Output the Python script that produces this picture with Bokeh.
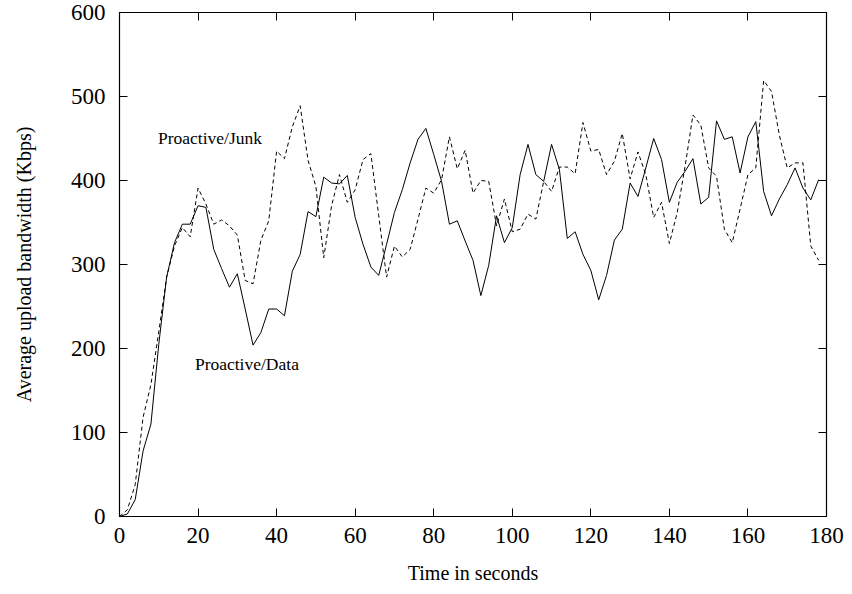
from bokeh.plotting import figure
from bokeh.models import LinearAxis, Label, Range1d, FixedTicker
from bokeh.embed import file_html
from bokeh.resources import INLINE

# ---- data ----
time_s = list(range(0, 180, 2))

proactive_data = [
    0, 3, 20, 78, 110, 205, 285, 326, 348, 348,
    370, 368, 318, 295, 273, 289, 247, 204, 219, 247,
    247, 239, 292, 312, 363, 357, 404, 397, 396, 406,
    356, 324, 297, 287, 324, 362, 389, 421, 449, 462,
    431, 399, 348, 352, 328, 305, 263, 299, 358, 326,
    344, 407, 443, 407, 399, 443, 413, 331, 339, 312,
    293, 258, 287, 329, 342, 397, 381, 415, 450, 425,
    374, 398, 411, 426, 372, 380, 471, 449, 452, 409,
    452, 470, 387, 358, 378, 395, 415, 391, 377, 401,
]

proactive_junk = [
    0, 8, 38, 118, 157, 220, 285, 322, 344, 333,
    391, 372, 348, 353, 346, 335, 281, 277, 329, 352,
    435, 426, 464, 489, 424, 393, 308, 370, 407, 374,
    389, 425, 432, 358, 285, 322, 309, 318, 354, 391,
    385, 401, 452, 414, 436, 385, 400, 399, 346, 378,
    339, 342, 360, 354, 399, 387, 416, 416, 408, 469,
    435, 437, 407, 423, 456, 402, 434, 407, 356, 374,
    325, 362, 417, 478, 466, 415, 405, 342, 326, 366,
    407, 415, 519, 506, 454, 415, 421, 421, 322, 305,
]

x_ticks = [0, 20, 40, 60, 80, 100, 120, 140, 160, 180]
y_ticks = [0, 100, 200, 300, 400, 500, 600]

series_labels = ["Proactive/Junk", "Proactive/Data"]

FONT = "Liberation Serif"

p = figure(width=844, height=586, output_backend="svg", toolbar_location=None,
           x_range=Range1d(0, 180), y_range=Range1d(0, 600),
           min_border_left=119, min_border_right=18, min_border_top=12,
           min_border_bottom=67)

p.line(time_s, proactive_junk, line_color="black", line_width=1, line_dash="4 3")
p.line(time_s, proactive_data, line_color="black", line_width=1)

p.grid.visible = False
p.outline_line_color = "black"
p.outline_line_width = 1.2
p.background_fill_color = "white"
p.border_fill_color = "white"

for ax in (p.xaxis[0], p.yaxis[0]):
    ax.major_tick_in = 8
    ax.major_tick_out = 0
    ax.minor_tick_line_color = None
    ax.axis_line_color = "black"
    ax.major_tick_line_color = "black"
    ax.major_label_text_font = FONT
    ax.major_label_text_font_size = "23px"
    ax.major_label_text_color = "black"
    ax.axis_label_text_font = FONT
    ax.axis_label_text_font_size = "20px"
    ax.axis_label_text_font_style = "normal"
    ax.axis_label_text_color = "black"

p.xaxis[0].ticker = FixedTicker(ticks=x_ticks)
p.yaxis[0].ticker = FixedTicker(ticks=y_ticks)
p.xaxis[0].axis_label = "Time in seconds"
p.yaxis[0].axis_label = "Average upload bandwidth (Kbps)"
p.xaxis[0].major_label_standoff = 11
p.yaxis[0].major_label_standoff = 14
p.xaxis[0].axis_label_standoff = 16
p.yaxis[0].axis_label_standoff = 33

# mirrored ticks on top and right
top_ax = LinearAxis(ticker=FixedTicker(ticks=x_ticks))
right_ax = LinearAxis(ticker=FixedTicker(ticks=y_ticks))
for ax in (top_ax, right_ax):
    ax.major_tick_in = 8
    ax.major_tick_out = 0
    ax.minor_tick_line_color = None
    ax.major_label_text_color = None
    ax.major_label_text_font_size = "1px"
    ax.major_label_standoff = 0
p.add_layout(top_ax, "above")
p.add_layout(right_ax, "right")

p.add_layout(Label(x=9.8, y=451, text=series_labels[0], text_font=FONT,
                   text_font_size="17.5px", text_color="black",
                   text_baseline="middle", text_align="left"))
p.add_layout(Label(x=19.2, y=182, text=series_labels[1], text_font=FONT,
                   text_font_size="17.5px", text_color="black",
                   text_baseline="middle", text_align="left"))

open("out.html", "w").write(file_html(p, INLINE))
